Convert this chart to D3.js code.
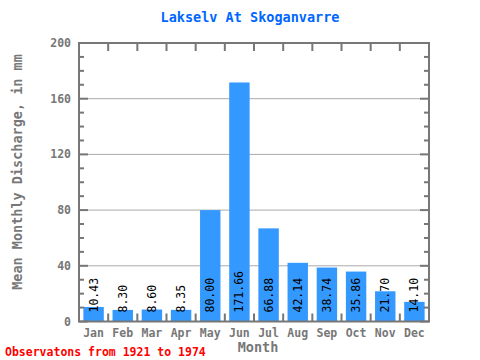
<!DOCTYPE html>
<html><head><meta charset="utf-8">
<script src="https://cdn.jsdelivr.net/npm/d3@7"></script>
<style>body{margin:0;background:#fff}</style>
</head><body>
<script>
const months = ["Jan","Feb","Mar","Apr","May","Jun","Jul","Aug","Sep","Oct","Nov","Dec"];
const values = [10.43, 8.30, 8.60, 8.35, 80.00, 171.66, 66.88, 42.14, 38.74, 35.86, 21.70, 14.10];
const yTicks = [0, 40, 80, 120, 160, 200];
const title = "Lakselv At Skoganvarre";
const yLabel = "Mean Monthly Discharge, in mm";
const xLabel = "Month";
const note = "Observatons from 1921 to 1974";

const W = 480, H = 360;
const m = {l: 79, r: 429, t: 43, b: 321.5};
const font = "'DejaVu Sans Mono', monospace";
const axisCol = "#777", gridCol = "#aaa", barCol = "#3399ff";

const svg = d3.select("body").append("svg").attr("width", W).attr("height", H);
const x = d3.scaleBand().domain(months).range([m.l, m.r]).paddingInner(0.3).paddingOuter(0.15);
const y = d3.scaleLinear().domain([0, 200]).range([m.b, m.t]);

// gridlines
svg.append("g").selectAll("line").data(yTicks.filter(d => d > 0 && d < 200)).join("line")
  .attr("x1", m.l).attr("x2", m.r).attr("y1", d => y(d)).attr("y2", d => y(d))
  .attr("stroke", gridCol).attr("stroke-width", 1);

// bars
svg.append("g").selectAll("rect").data(values).join("rect")
  .attr("x", (d, i) => x(months[i])).attr("width", x.bandwidth())
  .attr("y", d => y(d)).attr("height", d => y(0) - y(d)).attr("fill", barCol);

// value labels
svg.append("g").selectAll("text").data(values).join("text")
  .attr("transform", (d, i) => `translate(${x(months[i]) + x.bandwidth()/2 + 4},${m.b - 9}) rotate(-90)`)
  .attr("font-family", font).attr("font-size", 11.5).attr("fill", "#000")
  .text(d => d.toFixed(2));

// frame ticks
const minor = d3.range(0, 201, 10);
const tg = svg.append("g").attr("stroke", axisCol).attr("stroke-width", 2);
minor.forEach(v => {
  const len = v % 40 === 0 ? 9 : 5;
  tg.append("line").attr("x1", m.l).attr("x2", m.l + len).attr("y1", y(v)).attr("y2", y(v));
  tg.append("line").attr("x1", m.r).attr("x2", m.r - len).attr("y1", y(v)).attr("y2", y(v));
});
const step = (m.r - m.l) / months.length;
d3.range(1, months.length).forEach(i => {
  const xx = m.l + i * step;
  tg.append("line").attr("x1", xx).attr("x2", xx).attr("y1", m.t).attr("y2", m.t + 8);
  tg.append("line").attr("x1", xx).attr("x2", xx).attr("y1", m.b).attr("y2", m.b - 8);
});
svg.append("rect").attr("x", m.l).attr("y", m.t).attr("width", m.r - m.l).attr("height", m.b - m.t)
  .attr("fill", "none").attr("stroke", axisCol).attr("stroke-width", 2);

// y tick labels
svg.append("g").selectAll("text").data(yTicks).join("text")
  .attr("x", m.l - 8).attr("y", d => y(d)).attr("dy", "0.35em").attr("text-anchor", "end")
  .attr("font-family", font).attr("font-size", 11.5).attr("font-weight", "bold").attr("fill", axisCol)
  .text(d => d);

// x tick labels
svg.append("g").selectAll("text").data(months).join("text")
  .attr("x", d => x(d) + x.bandwidth()/2).attr("y", 337).attr("text-anchor", "middle")
  .attr("font-family", font).attr("font-size", 11.5).attr("font-weight", "bold").attr("fill", axisCol)
  .text(d => d);

// title
svg.append("text").attr("x", 250).attr("y", 22).attr("text-anchor", "middle")
  .attr("font-family", font).attr("font-size", 13.5).attr("font-weight", "bold").attr("fill", "#0066ff")
  .text(title);

// y label
svg.append("text").attr("transform", `translate(22,172) rotate(-90)`).attr("text-anchor", "middle")
  .attr("font-family", font).attr("font-size", 13.5).attr("font-weight", "bold").attr("fill", axisCol)
  .text(yLabel);

// x label
svg.append("text").attr("x", 258).attr("y", 352).attr("text-anchor", "middle")
  .attr("font-family", font).attr("font-size", 13.5).attr("font-weight", "bold").attr("fill", axisCol)
  .text(xLabel);

// note
svg.append("text").attr("x", 5).attr("y", 356)
  .attr("font-family", font).attr("font-size", 11.5).attr("font-weight", "bold").attr("fill", "#ff0000")
  .text(note);
</script>
</body></html>
